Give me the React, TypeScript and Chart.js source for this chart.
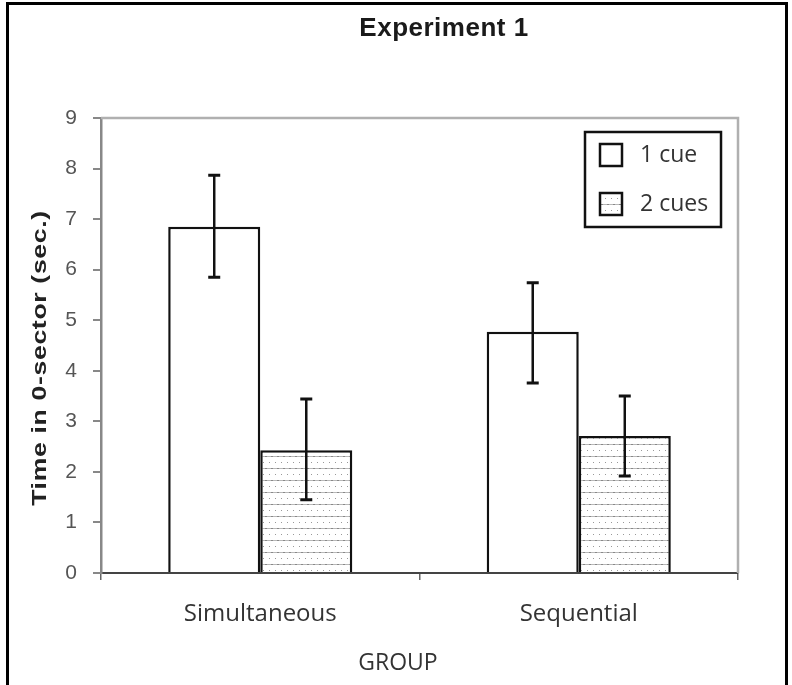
import React, { useEffect, useRef } from 'react';
import { Chart, registerables } from 'chart.js';

Chart.register(...registerables);

const chartTitle = 'Experiment 1';
const groups = ['Simultaneous', 'Sequential'];
const seriesNames = ['1 cue', '2 cues'];
const oneCue = [6.85, 4.77];
const twoCues = [2.43, 2.71];
const oneCueErrLow = [5.85, 3.76];
const oneCueErrHigh = [7.87, 5.74];
const twoCuesErrLow = [1.45, 1.92];
const twoCuesErrHigh = [3.44, 3.5];
const yAxisTitle = 'Time in 0-sector (sec.)';
const xAxisTitle = 'GROUP';
const yMin = 0;
const yMax = 9;
const yStep = 1;

function makePattern(): CanvasPattern | string {
  const c = document.createElement('canvas');
  c.width = 12;
  c.height = 12;
  const g = c.getContext('2d');
  if (!g) return '#ddd';
  g.fillStyle = '#ffffff';
  g.fillRect(0, 0, 12, 12);
  g.fillStyle = '#b8b8b8';
  g.fillRect(0, 0, 12, 1);
  g.fillStyle = '#888';
  g.fillRect(1, 0, 2, 1);
  g.fillRect(7, 0, 2, 1);
  g.fillStyle = '#999';
  g.fillRect(5, 6, 1, 1);
  g.fillRect(11, 6, 1, 1);
  return g.createPattern(c, 'repeat') || '#ddd';
}

export default function App() {
  const ref = useRef<HTMLCanvasElement | null>(null);

  useEffect(() => {
    const canvas = ref.current;
    if (!canvas) return;
    const pattern = makePattern();
    const errLow = [oneCueErrLow, twoCuesErrLow];
    const errHigh = [oneCueErrHigh, twoCuesErrHigh];

    const overlay = {
      id: 'overlay',
      beforeDatasetsDraw(chart: any) {
        const { ctx, chartArea } = chart;
        ctx.save();
        ctx.strokeStyle = '#b0b0b0';
        ctx.lineWidth = 2.5;
        ctx.beginPath();
        ctx.moveTo(chartArea.left, chartArea.top);
        ctx.lineTo(chartArea.right, chartArea.top);
        ctx.lineTo(chartArea.right, chartArea.bottom);
        ctx.stroke();
        ctx.restore();
      },
      afterDatasetsDraw(chart: any) {
        const { ctx } = chart;
        const yScale = chart.scales.y;
        ctx.save();
        ctx.strokeStyle = '#111';
        chart.data.datasets.forEach((_: any, di: number) => {
          const meta = chart.getDatasetMeta(di);
          meta.data.forEach((bar: any, i: number) => {
            const x = bar.x;
            const yl = yScale.getPixelForValue(errLow[di][i]);
            const yh = yScale.getPixelForValue(errHigh[di][i]);
            ctx.lineWidth = 2.5;
            ctx.beginPath();
            ctx.moveTo(x, yl);
            ctx.lineTo(x, yh);
            ctx.stroke();
            ctx.lineWidth = 3;
            ctx.beginPath();
            ctx.moveTo(x - 6, yl);
            ctx.lineTo(x + 6, yl);
            ctx.moveTo(x - 6, yh);
            ctx.lineTo(x + 6, yh);
            ctx.stroke();
          });
        });
        ctx.restore();
      },
      afterDraw(chart: any) {
        const { ctx } = chart;
        ctx.save();
        // chart title
        ctx.fillStyle = '#1a1a1a';
        ctx.font = 'bold 26px "Liberation Sans", Arial, sans-serif';
        (ctx as any).letterSpacing = '0.5px';
        ctx.textAlign = 'center';
        ctx.textBaseline = 'alphabetic';
        ctx.fillText(chartTitle, 444, 36);
        // y axis title
        ctx.save();
        ctx.translate(40, 358);
        ctx.rotate(-Math.PI / 2);
        ctx.scale(1.33, 1);
        ctx.font = 'bold 20px "Liberation Sans", Arial, sans-serif';
        (ctx as any).letterSpacing = '0.5px';
        ctx.textAlign = 'center';
        ctx.textBaseline = 'middle';
        ctx.fillStyle = '#222';
        ctx.fillText(yAxisTitle, 0, 0);
        ctx.restore();
        // x axis title
        (ctx as any).letterSpacing = '0px';
        ctx.font = '23px "Open Sans", sans-serif';
        ctx.fillStyle = '#333';
        ctx.textAlign = 'center';
        ctx.textBaseline = 'middle';
        ctx.fillText(xAxisTitle, 398, 663);
        // legend
        const lx = 585, ly = 132, lw = 136, lh = 95;
        ctx.fillStyle = '#fff';
        ctx.fillRect(lx, ly, lw, lh);
        ctx.strokeStyle = '#111';
        ctx.lineWidth = 2.5;
        ctx.strokeRect(lx, ly, lw, lh);
        const fills = [chart.data.datasets[0].backgroundColor, chart.data.datasets[1].backgroundColor];
        const rowsY = [155, 204];
        seriesNames.forEach((name, i) => {
          ctx.fillStyle = fills[i];
          ctx.fillRect(600, rowsY[i] - 11, 22, 22);
          ctx.lineWidth = 2.5;
          ctx.strokeStyle = '#111';
          ctx.strokeRect(600, rowsY[i] - 11, 22, 22);
          ctx.fillStyle = '#333';
          ctx.font = '23px "Open Sans", sans-serif';
          ctx.textAlign = 'left';
          ctx.textBaseline = 'middle';
          ctx.fillText(name, 640, rowsY[i]);
        });
        ctx.restore();
      },
    };

    const chart = new Chart(canvas, {
      type: 'bar',
      data: {
        labels: groups,
        datasets: [
          {
            label: seriesNames[0],
            data: oneCue,
            backgroundColor: '#ffffff',
            borderColor: '#111',
            borderWidth: 2.5,
            categoryPercentage: 0.578,
            barPercentage: 1,
          },
          {
            label: seriesNames[1],
            data: twoCues,
            backgroundColor: pattern as any,
            borderColor: '#111',
            borderWidth: 2.5,
            categoryPercentage: 0.578,
            barPercentage: 1,
          },
        ],
      },
      options: {
        responsive: false,
        animation: false,
        events: [],
        layout: { padding: { top: 118, right: 54, left: 0, bottom: 0 } },
        plugins: {
          legend: { display: false },
          title: { display: false },
          tooltip: { enabled: false },
        },
        scales: {
          x: {
            grid: {
              display: true,
              drawOnChartArea: false,
              drawTicks: true,
              tickLength: 7,
              color: '#666',
              lineWidth: 1.5,
              offset: true,
            },
            border: { display: true, color: '#444', width: 2 },
            ticks: {
              font: { family: '"Open Sans", sans-serif', size: 24 },
              color: '#333',
              padding: 20,
            },
            afterFit: (s: any) => {
              s.height = 112;
            },
          },
          y: {
            min: yMin,
            max: yMax,
            ticks: {
              stepSize: yStep,
              font: { family: '"Liberation Sans", Arial, sans-serif', size: 21 },
              color: '#555',
              padding: 16,
            },
            grid: {
              drawOnChartArea: false,
              tickLength: 8,
              color: '#888',
              lineWidth: 2,
            },
            border: { display: true, color: '#888', width: 2.5 },
            afterFit: (s: any) => {
              s.width = 101;
            },
          },
        },
      },
      plugins: [overlay],
    });

    return () => {
      chart.destroy();
    };
  }, []);

  return (
    <div style={{ position: 'absolute', left: 0, top: 0, width: 792, height: 685, background: '#fff' }}>
      <div
        style={{
          position: 'absolute',
          left: 6,
          top: 2,
          width: 782,
          height: 683,
          boxSizing: 'border-box',
          borderLeft: '3px solid #000',
          borderTop: '3px solid #000',
          borderRight: '3px solid #000',
        }}
      />
      <canvas
        ref={ref}
        width={792}
        height={685}
        style={{ position: 'absolute', left: 0, top: 0, width: 792, height: 685, display: 'block' }}
      />
    </div>
  );
}
